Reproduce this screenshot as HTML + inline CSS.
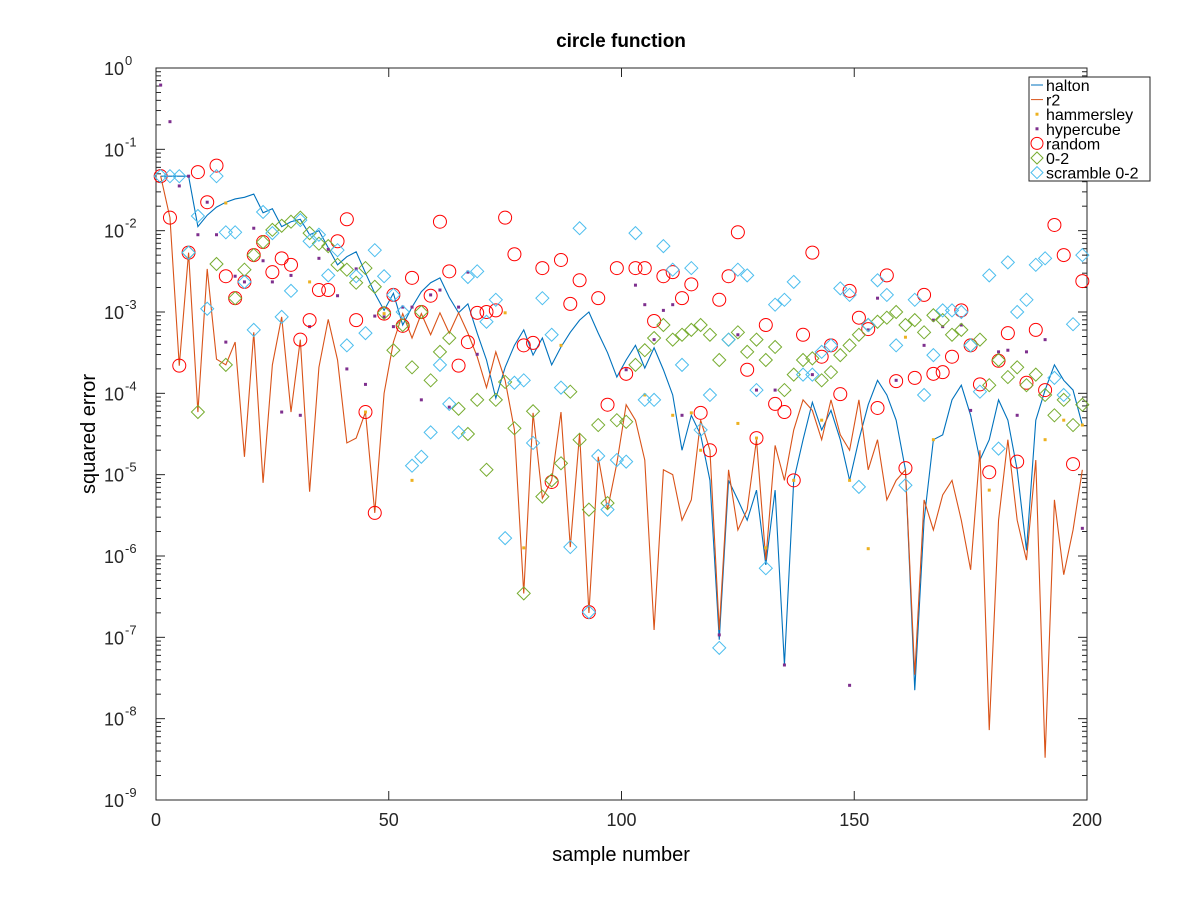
<!DOCTYPE html>
<html><head><meta charset="utf-8"><style>
body{margin:0;background:#fff;}
svg text{font-family:"Liberation Sans",sans-serif;}
</style></head><body>
<svg id="chart" width="1200" height="900" xmlns="http://www.w3.org/2000/svg">
<rect width="1200" height="900" fill="#fff"/>
<text x="621" y="47" font-size="19" font-weight="bold" text-anchor="middle">circle function</text>
<text x="621" y="861" font-size="20" text-anchor="middle">sample number</text>
<text transform="translate(95,434) rotate(-90)" font-size="20" text-anchor="middle">squared error</text>
<g id="plot"></g>
</svg>
<script>
// values are log10(squared error)
const haltonLog = [-1.33,-1.33,-1.33,-1.33,-1.95,-1.81,-1.71,-1.65,-1.61,-1.59,-1.55,-1.78,-1.73,-1.95,-1.89,-1.86,-2.05,-2.00,-2.21,-2.42,-2.32,-2.26,-2.52,-2.77,-2.98,
-2.77,-3.16,-2.94,-2.75,-2.64,-2.58,-2.82,-3.01,-2.90,-3.26,-3.59,-4.06,-3.68,-3.41,-3.22,-3.53,-3.32,-3.65,-3.43,-3.25,-3.10,-3.00,-3.26,-3.50,-3.80,
-3.59,-3.41,-3.69,-3.44,-3.71,-4.02,-4.70,-4.27,-4.51,-5.07,-7.03,-5.07,-5.31,-5.56,-5.19,-6.11,-5.19,-7.34,-5.07,-4.57,-4.11,-4.45,-4.21,-4.57,-5.07,-4.57,-4.14,-3.84,-4.02,-4.33,-4.94,-7.65,-5.56,-4.57,-4.51,-4.08,-3.90,-4.27,-4.82,-4.57,-4.08,-4.33,-4.94,-5.93,-4.33,-3.96,-3.65,-3.84,-3.96,-4.39];
const r2Log = [-1.33,-1.84,-3.66,-2.27,-4.23,-2.47,-3.58,-3.65,-3.37,-4.78,-3.25,-5.10,-3.65,-3.06,-4.23,-3.34,-5.21,-3.68,-3.09,-3.59,-4.61,-4.55,-4.23,-5.47,-4.00,
-3.37,-3.02,-3.32,-3.02,-3.28,-3.01,-3.26,-3.01,-3.26,-3.55,-3.93,-3.49,-3.84,-4.45,-6.46,-4.24,-5.29,-5.07,-4.23,-5.89,-4.49,-6.70,-4.78,-5.43,-4.86,
-4.14,-4.33,-4.82,-6.91,-4.94,-5.00,-5.56,-5.31,-4.33,-4.70,-6.91,-4.94,-5.68,-5.43,-4.57,-6.05,-4.64,-5.07,-4.45,-4.08,-4.21,-4.57,-4.08,-4.51,-4.70,-4.08,-4.94,-4.57,-5.31,-5.07,-4.94,-7.46,-5.31,-5.68,-5.25,-5.07,-5.56,-6.17,-4.70,-8.14,-5.56,-4.57,-5.56,-6.05,-4.82,-8.48,-5.31,-6.23,-5.68,-4.94];
const randomLog = [-1.33,-1.84,-3.66,-2.27,-1.28,-1.65,-1.20,-2.56,-2.83,-2.63,-2.30,-2.14,-2.51,-2.34,-2.42,-3.34,-3.10,-2.73,-2.73,-2.13,-1.86,-3.10,-4.23,-5.47,-3.02,
-2.79,-3.17,-2.58,-3.00,-2.80,-1.89,-2.50,-3.66,-3.37,-3.01,-3.00,-2.98,-1.84,-2.29,-3.41,-3.38,-2.46,-5.09,-2.36,-2.90,-2.61,-6.69,-2.83,-4.14,-2.46,
-3.76,-2.46,-2.46,-3.11,-2.56,-2.51,-2.83,-2.66,-4.24,-4.70,-2.85,-2.56,-2.02,-3.71,-4.55,-3.16,-4.13,-4.23,-5.07,-3.28,-2.27,-3.55,-3.41,-4.01,-2.74,
-3.07,-3.21,-4.18,-2.55,-3.85,-4.92,-3.81,-2.79,-3.76,-3.74,-3.55,-2.98,-3.41,-3.89,-4.97,-3.60,-3.26,-4.84,-3.87,-3.22,-3.96,-1.93,-2.30,-4.87,-2.62];
const zeroTwoX = [7,9,13,15,17,19,21,23,25,27,29,31,33,35,37,39,41,43,45,47,49,51,53,55,57,59,61,63,65,67,69,71,73,75,77,79,81,83,85,87,89,91,93,95,97,99,101,103,105,107,109,111,113,115,117,119,121,123,125,127,129,131,133,135,137,139,141,143,145,147,149,151,153,155,157,159,161,163,165,167,169,171,173,175,177,179,181,183,185,187,189,191,193,195,197,199];
const zeroTwoLog = [-2.27,-4.23,-2.41,-3.65,-2.83,-2.48,-2.30,-2.14,-1.99,-1.94,-1.89,-1.84,-2.03,-2.16,-2.19,-2.42,-2.48,-2.64,-2.46,-2.69,-3.01,-3.47,-3.16,-3.68,-3.00,-3.84,-3.49,-3.32,-4.19,-4.50,-4.08,-4.94,-4.08,-3.86,-4.43,-6.46,-4.22,-5.27,-5.07,-4.86,-3.98,-4.57,-5.43,-4.39,-5.35,-4.33,-4.35,-3.65,-3.47,-3.32,-3.16,-3.34,-3.28,-3.22,-3.16,-3.28,-3.59,-3.34,-3.25,-3.49,-3.34,-3.59,-3.43,-3.96,-3.77,-3.59,-3.57,-3.84,-3.74,-3.53,-3.41,-3.28,-3.16,-3.12,-3.07,-3.00,-3.16,-3.10,-3.25,-3.04,-3.10,-3.28,-3.22,-3.41,-3.34,-3.90,-3.59,-3.80,-3.68,-3.90,-3.77,-4.02,-4.27,-4.08,-4.39,-4.14];
const scrambleLog = [-1.33,-1.33,-1.33,-2.27,-1.82,-2.96,-1.33,-2.02,-2.02,-2.63,-3.22,-1.77,-2.03,-3.06,-2.74,-1.87,-2.13,-2.05,-2.55,-2.24,-3.41,-2.56,-3.26,-2.24,-2.56,
-2.79,-3.00,-4.89,-4.78,-4.48,-3.65,-4.13,-4.48,-2.57,-2.50,-3.12,-2.85,-5.78,-3.87,-3.84,-4.61,-2.83,-3.28,-3.93,-5.89,-1.97,-6.69,-4.77,-5.43,-4.82,
-4.84,-2.03,-4.08,-4.08,-2.19,-2.48,-3.65,-2.46,-4.45,-4.02,-7.13,-3.34,-2.48,-2.55,-3.96,-6.15,-2.91,-2.85,-2.63,-3.77,-3.77,-3.49,-3.41,-2.71,-2.79,
-5.15,-3.16,-2.61,-2.79,-3.41,-5.13,-2.85,-4.02,-3.53,-2.98,-2.98,-3.00,-3.41,-3.98,-2.55,-4.68,-2.39,-3.00,-2.85,-2.42,-2.34,-3.81,-4.02,-3.15,-2.30];
const hyperX = [1,3,5,7,9,11,13,15,17,19,21,23,25,27,29,31,33,35,37,39,41,43,45,47,49,51,53,55,57,59,61,63,65,67,69,101,103,105,107,109,111,113,121,125,129,133,135,141,149,153,155,159,165,167,169,173,175,181,183,185,187,191,199];
const hyperLog = [-0.21,-0.66,-1.45,-1.33,-2.05,-1.65,-2.05,-3.37,-2.56,-2.63,-1.97,-2.37,-2.63,-4.23,-2.55,-4.27,-3.18,-2.34,-2.23,-2.80,-3.70,-2.47,-3.89,-3.05,-3.06,-3.18,-2.94,-2.94,-4.08,-2.79,-2.73,-4.17,-2.94,-2.51,-3.52,
-3.71,-2.67,-2.91,-3.34,-2.98,-2.91,-4.27,-6.97,-3.28,-3.96,-3.96,-7.34,-3.77,-7.59,-3.22,-2.83,-3.84,-3.41,-3.10,-3.18,-3.16,-4.21,-3.49,-3.47,-4.27,-3.49,-3.34,-5.66];
const hammX = [15,33,45,49,55,75,79,87,105,111,115,117,125,129,131,137,143,149,153,161,167,179,191,195,199];
const hammLog = [-1.66,-2.63,-4.23,-3.02,-5.07,-3.01,-5.90,-3.41,-4.02,-4.27,-4.24,-4.70,-4.37,-4.55,-5.90,-5.07,-4.33,-5.07,-5.91,-3.31,-4.57,-5.19,-4.57,-4.33,-4.39];
const xTicks = [0,50,100,150,200];
const yExps = [0,-1,-2,-3,-4,-5,-6,-7,-8,-9];

const NS="http://www.w3.org/2000/svg";
const L=156,R=1087,T=68,B=800;
const sx=v=>L+(v/200)*(R-L);
const sy=e=>T+(0-e)/9*(B-T);
const g=document.getElementById('plot');
function mk(tag,attrs,parent){const el=document.createElementNS(NS,tag);for(const k in attrs)el.setAttribute(k,attrs[k]);(parent||g).appendChild(el);return el;}
const oddX=n=>Array.from({length:n},(_,i)=>1+2*i);

// axes box
const box=mk('rect',{x:L,y:T,width:R-L,height:B-T,fill:'none',stroke:'#262626','stroke-width':1});


// x ticks
xTicks.forEach(t=>{
  const x=sx(t);
  mk('line',{x1:x,x2:x,y1:B,y2:B-9,stroke:'#262626'});
  mk('line',{x1:x,x2:x,y1:T,y2:T+9,stroke:'#262626'});
  const tx=mk('text',{x:x,y:B+26,'font-size':18,'text-anchor':'middle',fill:'#262626'});
  tx.textContent=t;
  
  
});
// y ticks
yExps.forEach(e=>{
  const y=sy(e);
  mk('line',{x1:L,x2:L+9,y1:y,y2:y,stroke:'#262626'});
  mk('line',{x1:R,x2:R-9,y1:y,y2:y,stroke:'#262626'});
  if(e>-9){for(let m=2;m<=9;m++){const yy=sy(e-1+Math.log10(m));mk('line',{x1:L,x2:L+5,y1:yy,y2:yy,stroke:'#262626'});mk('line',{x1:R,x2:R-5,y1:yy,y2:yy,stroke:'#262626'});}}
  const tx=mk('text',{x:L-32,y:y+7,'font-size':18,'text-anchor':'end',fill:'#262626'});
  tx.textContent='10';
  
  
  const sup=mk('text',{x:L-31,y:y-3,'font-size':13,'text-anchor':'start',fill:'#262626'});
  sup.textContent=String(e).replace('-','-');
  
  
});
// lines
function line(xs,vals,color,name){
  const p=mk('polyline',{points:vals.map((v,i)=>sx(xs[i])+','+sy(v)).join(' '),fill:'none',stroke:color,'stroke-width':1.1});
  
  
}
line(oddX(haltonLog.length),haltonLog,'#0072BD','halton-line');
line(oddX(r2Log.length),r2Log,'#D95319','r2-line');
function dots(xs,vals,color,name){
  vals.forEach((v,i)=>{const d=mk('rect',{x:sx(xs[i])-1.5,y:sy(v)-1.5,width:3,height:3,fill:color});
  
  });
}
dots(hammX,hammLog,'#EDB120','hammersley-point');
dots(hyperX,hyperLog,'#7E2F8E','hypercube-point');
const rx=oddX(randomLog.length);
randomLog.forEach((v,i)=>{const c=mk('circle',{cx:sx(rx[i]),cy:sy(v),r:6.5,fill:'none',stroke:'#FF0000','stroke-width':1});

});
function diamonds(xs,vals,color,name){
  vals.forEach((v,i)=>{const x=sx(xs[i]),y=sy(v),s=6.5;
  const d=mk('polygon',{points:`${x},${y-s} ${x+s},${y} ${x},${y+s} ${x-s},${y}`,fill:'none',stroke:color,'stroke-width':1});
  
  });
}
diamonds(zeroTwoX,zeroTwoLog,'#77AC30','zero-two-point');
diamonds(oddX(scrambleLog.length),scrambleLog,'#4DBEEE','scramble-point');

// legend
const lg=mk('g',{});


mk('rect',{x:1029,y:77,width:121,height:104,fill:'#fff',stroke:'#262626','stroke-width':1},lg);
const names=['halton','r2','hammersley','hypercube','random','0-2','scramble 0-2'];
names.forEach((n,i)=>{
  const y=85+i*14.6, x=1037;
  if(i===0) mk('line',{x1:1031,x2:1043,y1:y,y2:y,stroke:'#0072BD'},lg);
  if(i===1) mk('line',{x1:1031,x2:1043,y1:y,y2:y,stroke:'#D95319'},lg);
  if(i===2) mk('rect',{x:x-1.5,y:y-1.5,width:3,height:3,fill:'#EDB120'},lg);
  if(i===3) mk('rect',{x:x-1.5,y:y-1.5,width:3,height:3,fill:'#7E2F8E'},lg);
  if(i===4) mk('circle',{cx:x,cy:y,r:6,fill:'none',stroke:'#FF0000'},lg);
  if(i===5) mk('polygon',{points:`${x},${y-6} ${x+6},${y} ${x},${y+6} ${x-6},${y}`,fill:'none',stroke:'#77AC30'},lg);
  if(i===6) mk('polygon',{points:`${x},${y-6} ${x+6},${y} ${x},${y+6} ${x-6},${y}`,fill:'none',stroke:'#4DBEEE'},lg);
  const t=mk('text',{x:1046,y:y+6,'font-size':16,fill:'#000'},lg);
  t.textContent=n;
  
  
});
</script>
</body></html>
